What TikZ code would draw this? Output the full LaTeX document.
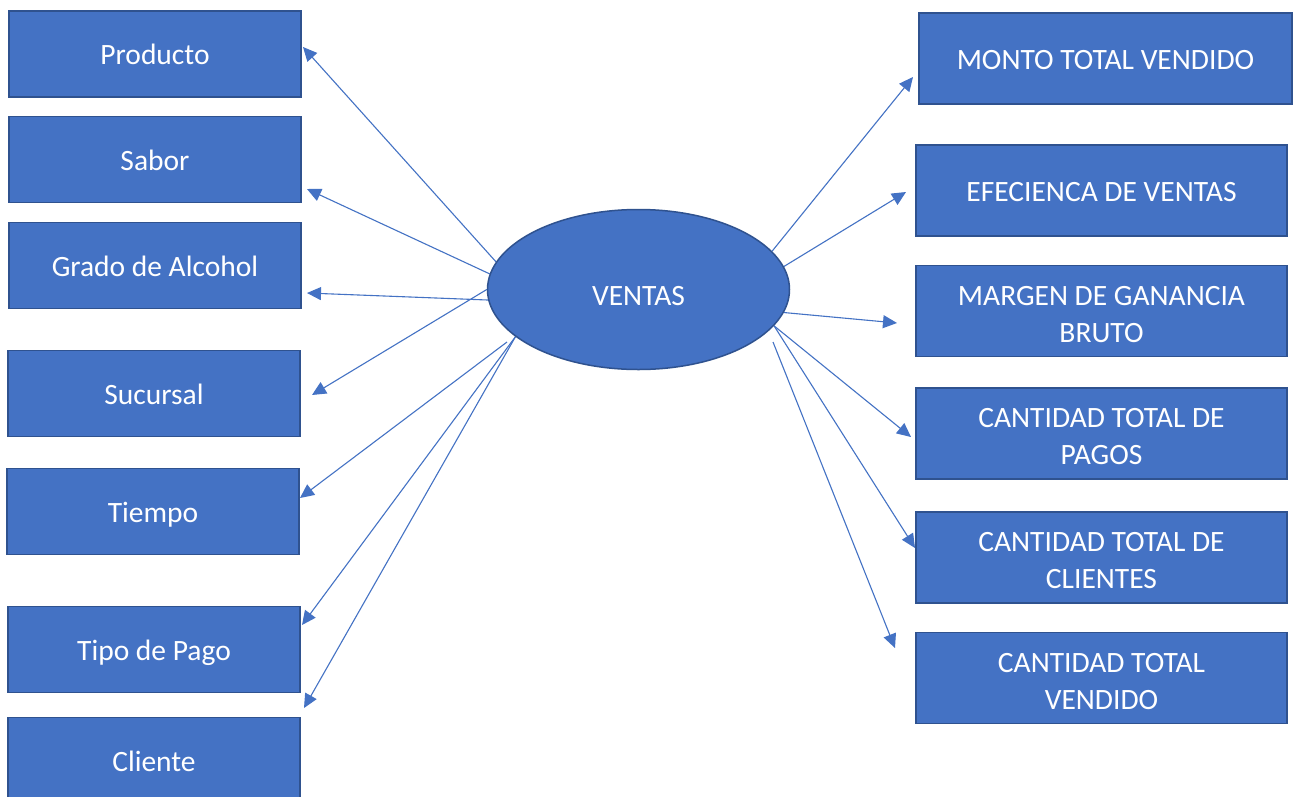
\documentclass[tikz,border=0pt]{standalone}
\usepackage{fontspec}
\setmainfont{Carlito}
\usetikzlibrary{shapes.geometric,arrows.meta}
\pgfdeclarelayer{background}
\pgfsetlayers{background,main}
\definecolor{boxfill}{HTML}{4472C4}
\definecolor{boxline}{HTML}{2F528F}
% raises the first line of a two-line label so the block sits a little lower
\newcommand{\toprule}{\rule{0pt}{26pt}}
\begin{document}
\begin{tikzpicture}[x=1pt,y=-1pt,
  plainbox/.style={rectangle,draw=boxline,fill=boxfill,line width=1.5pt,
    minimum width=292pt,minimum height=86pt,inner sep=0pt,
    text=white,font=\fontsize{29.5}{37}\selectfont,align=center},
  dimbox/.style={plainbox,text height=22pt,text depth=1pt},
  factbox/.style={dimbox,minimum width=371pt,minimum height=91pt},
  factbox2/.style={plainbox,minimum width=371pt,minimum height=91pt},
  hub/.style={ellipse,draw=boxline,fill=boxfill,line width=1.5pt,
    minimum width=302pt,minimum height=160pt,inner sep=0pt,
    text height=32pt,text depth=1pt,
    text=white,font=\fontsize{29.5}{37}\selectfont},
  link/.style={draw=boxfill,line width=1.1pt,
    -{Triangle[length=14pt,width=13pt]}}]
\clip (0,0) rectangle (1299,796);

% central fact
\node[hub] (v) at (638.5,289.5) {VENTAS};

% dimensions (left column)
\node[dimbox] (prod) at (155,54)    {Producto};
\node[dimbox] (sab)  at (155,159.5) {Sabor};
\node[dimbox] (gra)  at (155,265.5) {Grado de Alcohol};
\node[dimbox] (suc)  at (154,393.5) {Sucursal};
\node[dimbox] (tie)  at (153,511.5) {Tiempo};
\node[dimbox] (tip)  at (154,649.5) {Tipo de Pago};
\node[dimbox] (cli)  at (154,760.5) {Cliente};

% measures (right column)
\node[factbox,minimum width=373pt] (mon) at (1105.5,58.5) {MONTO TOTAL VENDIDO};
\node[factbox] (efe) at (1101.5,190.5) {EFECIENCA DE VENTAS};
\node[factbox2] (mar) at (1101.5,311)   {\toprule MARGEN DE GANANCIA\\BRUTO};
\node[factbox2] (pag) at (1101.5,433.5) {\toprule CANTIDAD TOTAL DE\\PAGOS};
\node[factbox2] (cls) at (1101.5,557.5) {\toprule CANTIDAD TOTAL DE\\CLIENTES};
\node[factbox2] (ven) at (1101.5,678)   {\toprule CANTIDAD TOTAL\\VENDIDO};

% arrow ends
\coordinate (tProd) at (303,47);
\coordinate (tSab)  at (307,189);
\coordinate (tGra)  at (307,293);
\coordinate (tSuc)  at (312,395);
\coordinate (tTie)  at (300,498);
\coordinate (tTip)  at (302,625);
\coordinate (tCli)  at (304,708);
\coordinate (tMon)  at (913,77);
\coordinate (tEfe)  at (906,192);
\coordinate (tMar)  at (897,323);
\coordinate (tPag)  at (911,437);
\coordinate (tCls)  at (915,548);
\coordinate (tVen)  at (895,648);
\coordinate (sTie)  at (507,342);
\coordinate (sVen)  at (773,342);

\begin{pgfonlayer}{background}
  \fill[white] (0,0) rectangle (1299,796);
  \draw[link] (v.169.2) -- (tProd);
  \draw[link] (v.174.4) -- (tSab);
  \draw[link] (v.184.8) -- (tGra);
  \draw[link] (v.180)   -- (tSuc);
  \draw[link] (sTie)    -- (tTie);
  \draw[link] (v.201.6) -- (tTip);
  \draw[link] (v.201)   -- (tCli);
  \draw[link] (v.16.1)  -- (tMon);
  \draw[link] (v.9.6)   -- (tEfe);
  \draw[link] (v.-9.3)  -- (tMar);
  \draw[link] (v.-15.4) -- (tPag);
  \draw[link] (v.-15.8) -- (tCls);
  \draw[link] (sVen)    -- (tVen);
\end{pgfonlayer}
\end{tikzpicture}
\end{document}
